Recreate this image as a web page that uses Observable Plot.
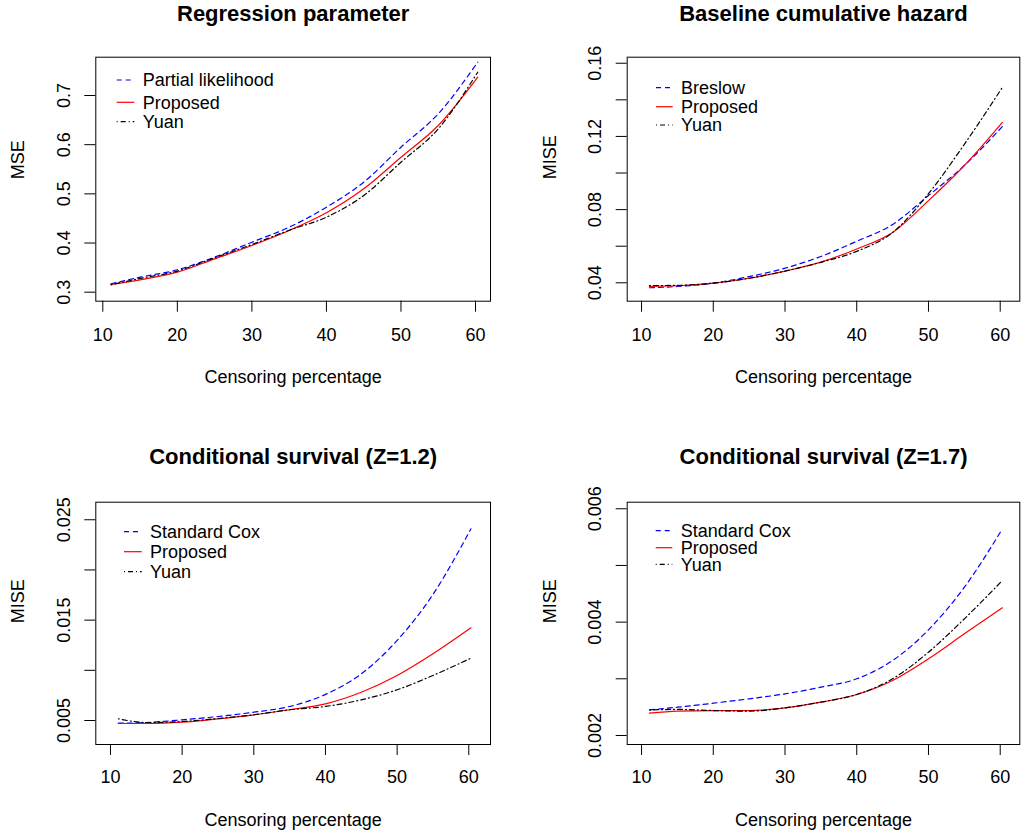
<!DOCTYPE html>
<html><head><meta charset="utf-8">
<script src="https://cdn.jsdelivr.net/npm/d3@7"></script>
<script src="https://cdn.jsdelivr.net/npm/@observablehq/plot@0.6"></script>
<style>
html,body{margin:0;padding:0;background:#fff;}
#wrap{position:relative;width:1022px;height:837px;overflow:hidden;background:#fff;font-family:"Liberation Sans",Arial,sans-serif;}
.panel{position:absolute;}
#legend{position:absolute;left:0;top:0;pointer-events:none;}
</style></head>
<body><div id="wrap"></div>
<script>
// ---- data ----
const censoring = [11.1, 15, 20, 25, 30, 35, 40, 45, 50, 55, 60.3];
const xTicks = [10, 20, 30, 40, 50, 60];

// Panel 1: Regression parameter (MSE)
const regPartial  = [0.317, 0.3305, 0.3456, 0.3712, 0.4017, 0.4322, 0.4729, 0.5237, 0.5949, 0.6628, 0.7678];
const regProposed = [0.3157, 0.3252, 0.3407, 0.3679, 0.395, 0.4255, 0.4615, 0.5103, 0.5746, 0.639, 0.7373];
const regYuan     = [0.315, 0.328, 0.343, 0.370, 0.397, 0.426, 0.4525, 0.4967, 0.5644, 0.6323, 0.7474];
const regTicks  = [0.3, 0.4, 0.5, 0.6, 0.7];
const regLabels = ["0.3", "0.4", "0.5", "0.6", "0.7"];

// Panel 2: Baseline cumulative hazard (MISE)
const hazBreslow  = [0.0373, 0.038, 0.0398, 0.0434, 0.048, 0.0544, 0.0627, 0.0719, 0.0877, 0.1041, 0.1254];
const hazProposed = [0.0381, 0.0384, 0.0398, 0.0425, 0.0464, 0.0513, 0.0585, 0.0675, 0.0849, 0.1041, 0.1277];
const hazYuan     = [0.0385, 0.0386, 0.0398, 0.0425, 0.0464, 0.0512, 0.0572, 0.0675, 0.0887, 0.1157, 0.1468];
const hazTicks  = [0.04, 0.06, 0.08, 0.10, 0.12, 0.14, 0.16];
const hazLabels = ["0.04", "", "0.08", "", "0.12", "", "0.16"];

// Panel 3: Conditional survival (Z=1.2) (MISE)
const s12Cox      = [0.00473, 0.0048, 0.00507, 0.0054, 0.00583, 0.0064, 0.0076, 0.00965, 0.01298, 0.01756, 0.0241];
const s12Proposed = [0.0047, 0.0047, 0.00483, 0.00517, 0.00557, 0.00607, 0.00666, 0.00782, 0.00949, 0.01165, 0.01424];
const s12Yuan     = [0.00517, 0.0048, 0.0049, 0.0052, 0.00557, 0.00607, 0.0064, 0.00706, 0.00806, 0.00949, 0.01121];
const s12Ticks  = [0.005, 0.010, 0.015, 0.020, 0.025];
const s12Labels = ["0.005", "", "0.015", "", "0.025"];

// Panel 4: Conditional survival (Z=1.7) (MISE)
const s17Cox      = [0.002453, 0.002499, 0.00257, 0.002647, 0.002735, 0.002852, 0.003, 0.003323, 0.003864, 0.004616, 0.005645];
const s17Proposed = [0.002394, 0.002429, 0.00244, 0.00244, 0.002488, 0.002588, 0.002723, 0.00297, 0.003353, 0.003793, 0.004252];
const s17Yuan     = [0.00245, 0.00246, 0.00244, 0.00243, 0.002488, 0.002588, 0.002723, 0.003, 0.00347, 0.004058, 0.004734];
const s17Ticks  = [0.002, 0.003, 0.004, 0.005, 0.006];
const s17Labels = ["0.002", "", "0.004", "", "0.006"];

const titles = ["Regression parameter", "Baseline cumulative hazard", "Conditional survival (Z=1.2)", "Conditional survival (Z=1.7)"];
const yLabels = ["MSE", "MISE", "MISE", "MISE"];
const xLabel = "Censoring percentage";
const legendNames = [
  ["Partial likelihood", "Proposed", "Yuan"],
  ["Breslow", "Proposed", "Yuan"],
  ["Standard Cox", "Proposed", "Yuan"],
  ["Standard Cox", "Proposed", "Yuan"]
];

// ---- styles ----
const seriesStyle = [
  {stroke: "#0000ff", dash: "5,4"},
  {stroke: "#ff0000", dash: null},
  {stroke: "#000000", dash: "1,3,5,3"}
];
const FONT = "Liberation Sans, Arial, sans-serif";

const panels = [
  {left: 0, top: 0, width: 511, height: 418, mL: 95.3, mR: 21, mT: 56.7, mB: 117.3,
   xDom: [9.06, 62.01], yDom: [0.2817, 0.7779], series: [regPartial, regProposed, regYuan],
   ticks: regTicks, labels: regLabels, titleDy: -43.4, xTickPad: 16.5,
   legend: {x1: 116.7, x2: 134.3, tx: 142.7, rows: [80, 102.3, 121.7]}},
  {left: 511, top: 0, width: 511, height: 418, mL: 115.7, mR: 2.7, mT: 56.7, mB: 117.3,
   xDom: [8.0, 62.73], yDom: [0.02995, 0.1633], series: [hazBreslow, hazProposed, hazYuan],
   ticks: hazTicks, labels: hazLabels, titleDy: -43.4, xTickPad: 16.5,
   legend: {x1: 656, x2: 672.7, tx: 681, rows: [87.7, 106.7, 125]}},
  {left: 0, top: 418, width: 511, height: 419, mL: 95.3, mR: 21, mT: 83.7, mB: 93,
   xDom: [7.95, 63.03], yDom: [0.00261, 0.02675], series: [s12Cox, s12Proposed, s12Yuan],
   ticks: s12Ticks, labels: s12Labels, titleDy: -45, xTickPad: 15,
   legend: {x1: 124, x2: 141.7, tx: 150, rows: [531.7, 551.7, 571.7]}},
  {left: 511, top: 418, width: 511, height: 419, mL: 115.7, mR: 2.7, mT: 83.7, mB: 93,
   xDom: [8.0, 62.73], yDom: [0.001841, 0.006116], series: [s17Cox, s17Proposed, s17Yuan],
   ticks: s17Ticks, labels: s17Labels, titleDy: -45, xTickPad: 15,
   legend: {x1: 655.7, x2: 672.3, tx: 680.7, rows: [530.7, 547.7, 564.3]}}
];

const wrap = document.getElementById("wrap");

panels.forEach((p, k) => {
  const labelMap = new Map(p.ticks.map((t, i) => [t, p.labels[i]]));
  const lineMarks = p.series.map((vals, s) => {
    const rows = censoring.map((c, i) => ({x: c, y: vals[i]}));
    return Plot.line(rows, {x: "x", y: "y", stroke: seriesStyle[s].stroke, strokeWidth: 1.2,
      curve: "monotone-x", strokeDasharray: seriesStyle[s].dash ?? undefined});
  });
  const chart = Plot.plot({
    width: p.width, height: p.height,
    marginLeft: p.mL, marginRight: p.mR, marginTop: p.mT, marginBottom: p.mB,
    style: {fontFamily: FONT, fontSize: "18px", background: "transparent", color: "black", overflow: "visible"},
    x: {domain: p.xDom, label: null},
    y: {domain: p.yDom, label: null},
    marks: [
      ...lineMarks,
      Plot.frame({stroke: "black", strokeWidth: 1}),
      Plot.axisX({ticks: xTicks, tickSize: 11, tickPadding: p.xTickPad, tickFormat: d => String(d), fontSize: 18, label: null}),
      Plot.axisY({ticks: p.ticks, tickSize: 11, tickPadding: 15.3, tickRotate: -90, tickFormat: d => labelMap.get(d) ?? "", fontSize: 18, label: null}),
      Plot.text([titles[k]], {frameAnchor: "top", lineAnchor: "middle", dy: p.titleDy, text: d => d, fontSize: 22, fontWeight: "bold"}),
      Plot.text([xLabel], {frameAnchor: "bottom", lineAnchor: "middle", dy: 76, text: d => d, fontSize: 18}),
      Plot.text([yLabels[k]], {frameAnchor: "left", lineAnchor: "middle", rotate: -90, dx: -77.3, text: d => d, fontSize: 18})
    ]
  });
  const div = document.createElement("div");
  div.className = "panel";
  div.style.left = p.left + "px";
  div.style.top = p.top + "px";
  div.appendChild(chart);
  wrap.appendChild(div);
});

// ---- legends (overlay) ----
const NS = "http://www.w3.org/2000/svg";
const lg = document.createElementNS(NS, "svg");
lg.setAttribute("id", "legend");
lg.setAttribute("width", 1022);
lg.setAttribute("height", 837);
panels.forEach((p, k) => {
  p.legend.rows.forEach((ry, s) => {
    const ln = document.createElementNS(NS, "line");
    ln.setAttribute("x1", p.legend.x1); ln.setAttribute("x2", p.legend.x2);
    ln.setAttribute("y1", ry); ln.setAttribute("y2", ry);
    ln.setAttribute("stroke", seriesStyle[s].stroke);
    ln.setAttribute("stroke-width", 1.2);
    if (seriesStyle[s].dash) ln.setAttribute("stroke-dasharray", seriesStyle[s].dash);
    lg.appendChild(ln);
    const tx = document.createElementNS(NS, "text");
    tx.setAttribute("x", p.legend.tx);
    tx.setAttribute("y", ry + 6.4);
    tx.setAttribute("font-family", FONT);
    tx.setAttribute("font-size", 18);
    tx.setAttribute("fill", "black");
    tx.textContent = legendNames[k][s];
    lg.appendChild(tx);
  });
});
wrap.appendChild(lg);
</script>
</body></html>
